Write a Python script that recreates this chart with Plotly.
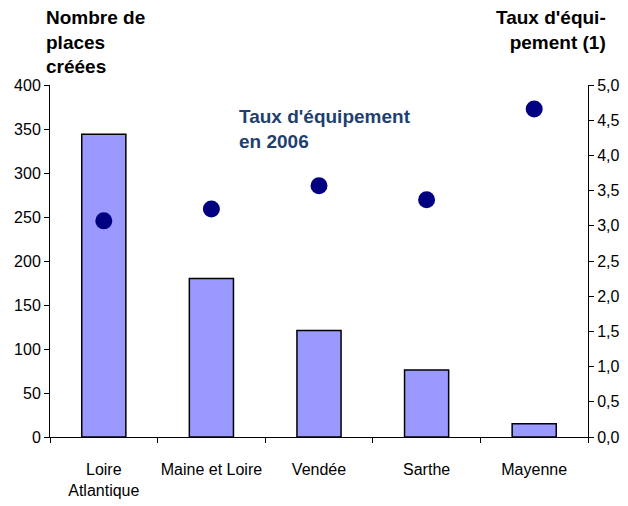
import plotly.graph_objects as go

categories = ["Loire<br>Atlantique", "Maine et Loire", "Vendée", "Sarthe", "Mayenne"]
places_creees = [344, 180, 121, 76, 15]
taux_equipement = [3.07, 3.24, 3.57, 3.37, 4.66]

left_ticks = [0, 50, 100, 150, 200, 250, 300, 350, 400]
right_ticks = [0, 0.5, 1.0, 1.5, 2.0, 2.5, 3.0, 3.5, 4.0, 4.5, 5.0]
right_ticktext = [f"{v:.1f}".replace(".", ",") for v in right_ticks]

tick_font = dict(family="Liberation Sans, Arial, sans-serif", size=16, color="black")
bold_font = dict(family="Liberation Sans, Arial, sans-serif", size=19, color="black")

fig = go.Figure()
fig.add_trace(go.Bar(
    x=categories, y=places_creees,
    marker=dict(color="#9999FF", line=dict(color="black", width=1.5)),
    width=0.41, yaxis="y", showlegend=False,
))
fig.add_trace(go.Scatter(
    x=categories, y=taux_equipement, mode="markers",
    marker=dict(color="#000080", size=17, symbol="circle"),
    yaxis="y2", showlegend=False,
))

fig.update_layout(
    width=628, height=506,
    margin=dict(l=42, r=48, t=77, b=77),
    paper_bgcolor="white", plot_bgcolor="white",
    font=tick_font,
    xaxis=dict(
        type="category", showline=True, linecolor="black", linewidth=1,
        ticks="outside", ticklen=5, tickcolor="black", tickson="boundaries",
        tickfont=tick_font, showgrid=False, zeroline=False, tickangle=0,
        ticklabelstandoff=18, automargin=False,
    ),
    yaxis=dict(
        range=[0, 400], tickvals=left_ticks, showline=True, linecolor="black",
        linewidth=1, ticks="outside", ticklen=5, tickcolor="black",
        showgrid=False, zeroline=False, tickfont=tick_font, automargin=False,
    ),
    yaxis2=dict(
        range=[0, 5], tickvals=right_ticks, ticktext=right_ticktext,
        overlaying="y", side="right", showline=True, linecolor="black",
        linewidth=1, ticks="outside", ticklen=5, tickcolor="black",
        showgrid=False, zeroline=False, tickfont=tick_font, automargin=False,
    ),
    annotations=[
        dict(text="<b>Nombre de<br>places<br>créées</b>", xref="paper", yref="paper",
             x=-0.011, y=1.0, yshift=80, xanchor="left", yanchor="top", align="left",
             showarrow=False, font=bold_font),
        dict(text="<b>Taux d'équi-<br>pement (1)</b>", xref="paper", yref="paper",
             x=1.0, xshift=20, y=1.0, yshift=80, xanchor="right", yanchor="top", align="right",
             showarrow=False, font=bold_font),
        dict(text="<b>Taux d'équipement<br>en 2006</b>", xref="paper", yref="paper",
             x=0.348, y=1.0, yshift=-19, xanchor="left", yanchor="top", align="left",
             showarrow=False, font=dict(family="Liberation Sans, Arial, sans-serif", size=19, color="#1F3F70")),
    ],
)

fig.write_html("out.html")
